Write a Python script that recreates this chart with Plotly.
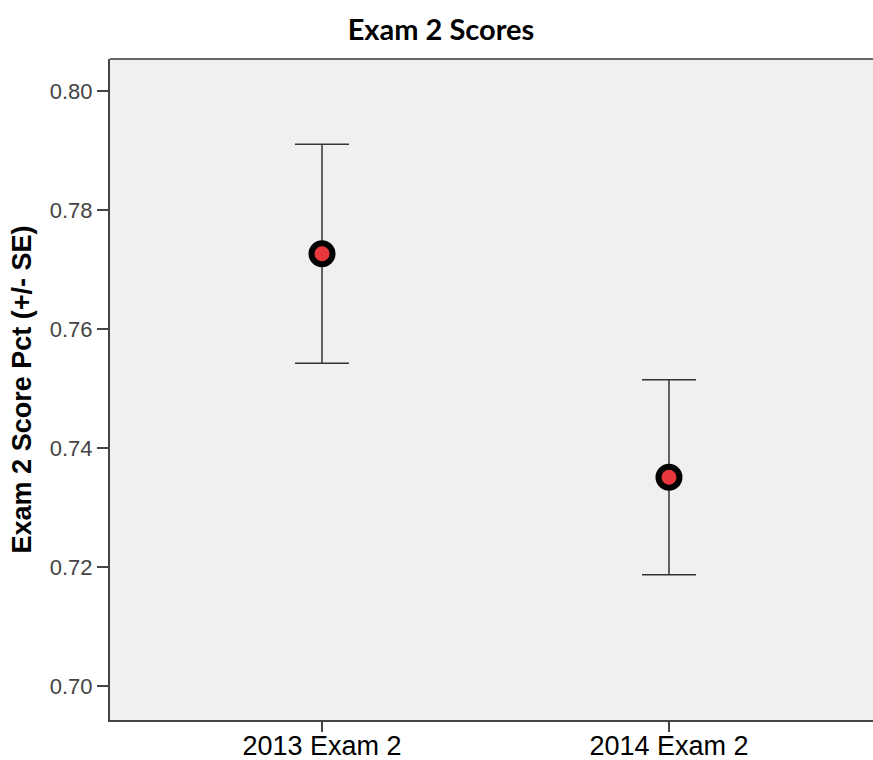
import plotly.graph_objects as go

categories = ["2013 Exam 2", "2014 Exam 2"]
means = [0.7727, 0.7351]
se = [0.0184, 0.0164]
ytick_vals = [0.70, 0.72, 0.74, 0.76, 0.78, 0.80]
ytick_text = ["0.70", "0.72", "0.74", "0.76", "0.78", "0.80"]

W, H = 873, 760

fig = go.Figure()
fig.add_trace(go.Scatter(
    x=categories, y=means, mode="markers",
    marker=dict(size=21, color="#e8383d", line=dict(color="#000000", width=6)),
    error_y=dict(type="data", array=se, visible=True, color="#333333", thickness=1.5, width=27),
    showlegend=False,
))

fig.add_shape(type="line", xref="paper", yref="paper", x0=0, x1=1.02, y0=1, y1=1,
              line=dict(color="#666666", width=2))

fig.update_layout(
    width=W, height=H,
    margin=dict(l=110, r=0, t=59, b=40),
    paper_bgcolor="white",
    plot_bgcolor="#f0f0f0",
    title=dict(text="<b>Exam 2 Scores</b>", x=441 / W, xanchor="center", y=1 - 30 / H, yanchor="middle",
               font=dict(family="Lato", size=29, color="#000000")),
    xaxis=dict(
        type="category", range=[-0.611, 1.588],
        showgrid=False, zeroline=False,
        showline=True, linecolor="#444444", linewidth=2, mirror=False,
        ticks="outside", ticklen=10, tickcolor="#444444", tickwidth=1.5,
        tickfont=dict(family="Liberation Sans", size=27, color="#000000"),
        ticklabelstandoff=-9,
        automargin=False,
    ),
    yaxis=dict(
        range=[0.69428, 0.80545],
        tickvals=ytick_vals, ticktext=ytick_text,
        showgrid=False, zeroline=False,
        showline=True, linecolor="#444444", linewidth=2, mirror=False,
        ticks="outside", ticklen=11, tickcolor="#444444", tickwidth=1.5,
        tickfont=dict(family="Liberation Sans", size=22, color="#444444"),
        title=dict(text="<b>Exam 2 Score Pct (+/- SE)</b>", standoff=10,
                   font=dict(family="Liberation Sans", size=27, color="#000000")),
        automargin=False,
    ),
)

fig.write_html(
    "out.html",
    config={"displayModeBar": False},
    post_script="document.body.style.margin='0';document.body.style.overflow='hidden';",
)
